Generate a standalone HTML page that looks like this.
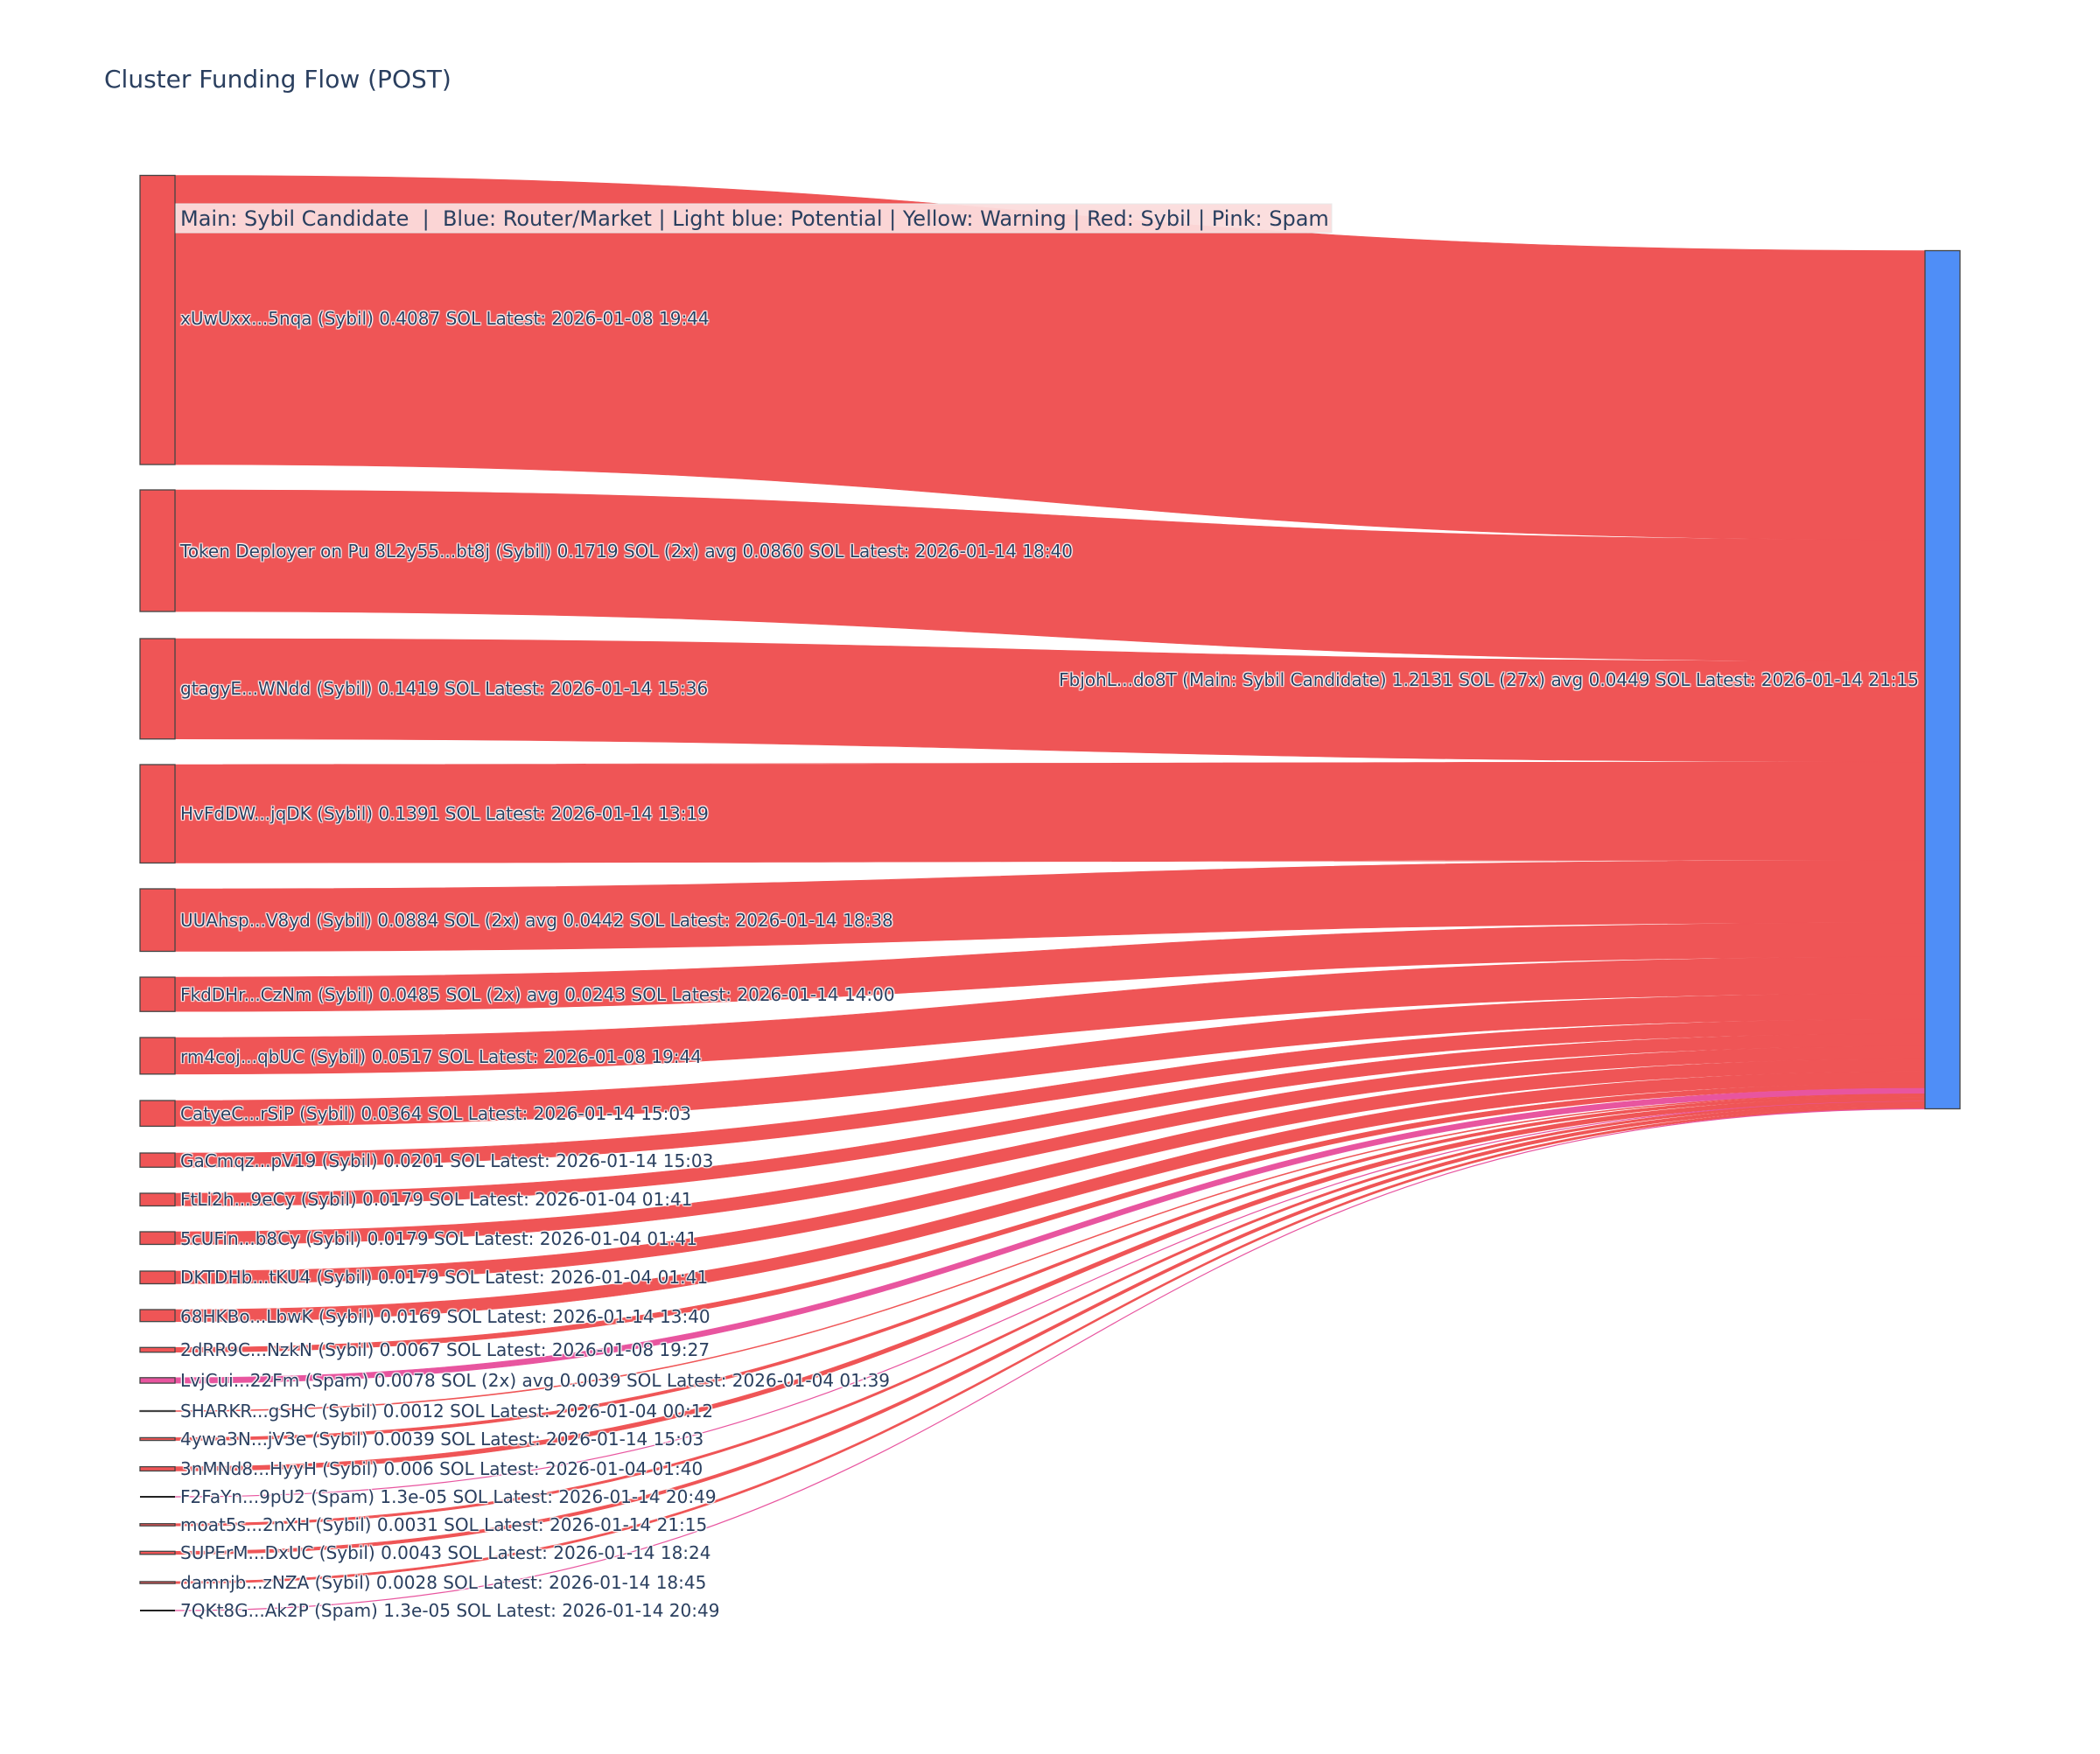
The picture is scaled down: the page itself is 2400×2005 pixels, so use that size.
<!DOCTYPE html>
<html><head><meta charset="utf-8"><style>
html,body{margin:0;padding:0;background:#fff;}
svg text{font-family:"DejaVu Sans","Liberation Sans",sans-serif;}
.lb{font-size:20px;fill:#2a3f5f;text-shadow:1px 1px 1px #fff,-1px -1px 1px #fff,1px -1px 1px #fff,-1px 1px 1px #fff;}
</style></head><body>
<svg id="s" width="2400" height="2000" viewBox="0 0 2400 2000" xmlns="http://www.w3.org/2000/svg">
<rect width="2400" height="2000" fill="#fff"/>
<text x="119" y="100" font-size="28" fill="#2a3f5f">Cluster Funding Flow (POST)</text>
<g id="links"></g>
<g id="nodes"></g>
<rect x="201" y="233" width="1321" height="33" fill="#fbdcdc" fill-opacity="0.95" stroke="#e8e8e8" stroke-width="1"/>
<text x="206" y="258" font-size="24" fill="#2a3f5f" xml:space="preserve">Main: Sybil Candidate  |  Blue: Router/Market | Light blue: Potential | Yellow: Warning | Red: Sybil | Pink: Spam</text>
<g class="lb">
<text class="lb" x="206" y="371">xUwUxx...5nqa (Sybil) 0.4087 SOL Latest: 2026-01-08 19:44</text>
<text class="lb" x="206" y="637">Token Deployer on Pu 8L2y55...bt8j (Sybil) 0.1719 SOL (2x) avg 0.0860 SOL Latest: 2026-01-14 18:40</text>
<text class="lb" x="206" y="794">gtagyE...WNdd (Sybil) 0.1419 SOL Latest: 2026-01-14 15:36</text>
<text class="lb" x="206" y="937">HvFdDW...jqDK (Sybil) 0.1391 SOL Latest: 2026-01-14 13:19</text>
<text class="lb" x="206" y="1059">UUAhsp...V8yd (Sybil) 0.0884 SOL (2x) avg 0.0442 SOL Latest: 2026-01-14 18:38</text>
<text class="lb" x="206" y="1144">FkdDHr...CzNm (Sybil) 0.0485 SOL (2x) avg 0.0243 SOL Latest: 2026-01-14 14:00</text>
<text class="lb" x="206" y="1215">rm4coj...qbUC (Sybil) 0.0517 SOL Latest: 2026-01-08 19:44</text>
<text class="lb" x="206" y="1280">CatyeC...rSiP (Sybil) 0.0364 SOL Latest: 2026-01-14 15:03</text>
<text class="lb" x="206" y="1334">GaCmqz...pV19 (Sybil) 0.0201 SOL Latest: 2026-01-14 15:03</text>
<text class="lb" x="206" y="1378">FtLi2h...9eCy (Sybil) 0.0179 SOL Latest: 2026-01-04 01:41</text>
<text class="lb" x="206" y="1423">5cUFin...b8Cy (Sybil) 0.0179 SOL Latest: 2026-01-04 01:41</text>
<text class="lb" x="206" y="1467">DKTDHb...tKU4 (Sybil) 0.0179 SOL Latest: 2026-01-04 01:41</text>
<text class="lb" x="206" y="1512">68HKBo...LbwK (Sybil) 0.0169 SOL Latest: 2026-01-14 13:40</text>
<text class="lb" x="206" y="1550">2dRR9C...NzkN (Sybil) 0.0067 SOL Latest: 2026-01-08 19:27</text>
<text class="lb" x="206" y="1585">LvjCui...22Fm (Spam) 0.0078 SOL (2x) avg 0.0039 SOL Latest: 2026-01-04 01:39</text>
<text class="lb" x="206" y="1620">SHARKR...gSHC (Sybil) 0.0012 SOL Latest: 2026-01-04 00:12</text>
<text class="lb" x="206" y="1652">4ywa3N...jV3e (Sybil) 0.0039 SOL Latest: 2026-01-14 15:03</text>
<text class="lb" x="206" y="1686">3nMNd8...HyyH (Sybil) 0.006 SOL Latest: 2026-01-04 01:40</text>
<text class="lb" x="206" y="1718">F2FaYn...9pU2 (Spam) 1.3e-05 SOL Latest: 2026-01-14 20:49</text>
<text class="lb" x="206" y="1750">moat5s...2nXH (Sybil) 0.0031 SOL Latest: 2026-01-14 21:15</text>
<text class="lb" x="206" y="1782">SUPErM...DxUC (Sybil) 0.0043 SOL Latest: 2026-01-14 18:24</text>
<text class="lb" x="206" y="1816">damnjb...zNZA (Sybil) 0.0028 SOL Latest: 2026-01-14 18:45</text>
<text class="lb" x="206" y="1848">7QKt8G...Ak2P (Spam) 1.3e-05 SOL Latest: 2026-01-14 20:49</text>
<text class="lb" x="2193" y="784" text-anchor="end">FbjohL...do8T (Main: Sybil Candidate) 1.2131 SOL (27x) avg 0.0449 SOL Latest: 2026-01-14 21:15</text>
</g>
</svg>
<script>
(function(){
var R="#ef5556",P="#e8559f";
var d=[[200.5,.4087,R],[560,.1719,R],[730,.1419,R],[874,.1391,R],[1016,.0884,R],[1117,.0485,R],[1186,.0517,R],[1258,.0364,R],[1318,.0201,R],[1364,.0179,R],[1408,.0179,R],[1453,.0179,R],[1497,.0169,R],[1540.3,.0067,R],[1574.8,.0078,P],[1612.5,.0012,R],[1643.4,.0039,R],[1676.6,.006,R],[1711,0,P],[1741.7,.0031,R],[1773.3,.0043,R],[1807.9,.0028,R],[1841,0,P]];
var k=808.7,ry=286.5,L="",N="";
for(var i=0;i<d.length;i++){
 var t=d[i][0],h=d[i][1]*k,c=d[i][2];
 var a=t,b=t+h,c1=ry,c2=ry+h;
 if(h<0.5){
  L+='<path d="M200,'+a+' C1200,'+a+' 1200,'+c1+' 2200,'+c1+'" fill="none" stroke="'+c+'" stroke-width="1.2"/>';
  N+='<rect x="160" y="'+(a-1)+'" width="40" height="2" fill="#222"/>';
 } else {
  L+='<path d="M200,'+a+' C1200,'+a+' 1200,'+c1+' 2200,'+c1+' L2200,'+c2+' C1200,'+c2+' 1200,'+b+' 200,'+b+' Z" fill="'+c+'" stroke="'+c+'" stroke-width="0.6"/>';
  N+='<rect x="160" y="'+a+'" width="40" height="'+h+'" fill="'+c+'" stroke="#444" stroke-width="1.3"/>';
 }
 ry+=h;
}
N+='<rect x="2200" y="286.5" width="40" height="981" fill="#4f8ef7" stroke="#444" stroke-width="1.3"/>';
document.getElementById("links").innerHTML=L;
document.getElementById("nodes").innerHTML=N;
})();
</script>
</body></html>
